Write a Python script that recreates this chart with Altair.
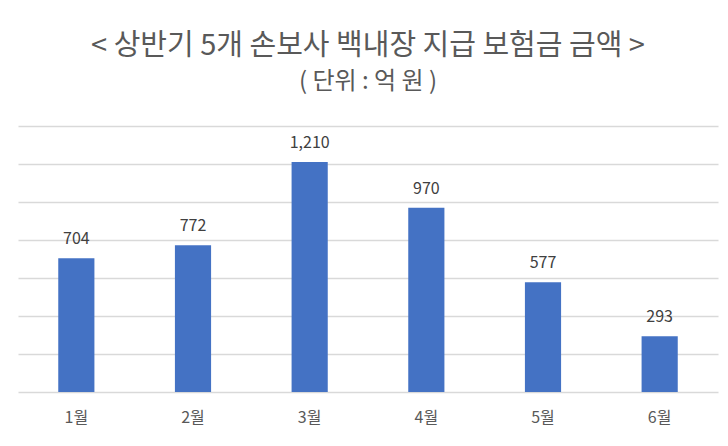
import altair as alt
import pandas as pd

months = ["1월", "2월", "3월", "4월", "5월", "6월"]
values = [704, 772, 1210, 970, 577, 293]
labels = ["704", "772", "1,210", "970", "577", "293"]

df = pd.DataFrame({"month": months, "value": values, "label": labels})

FONT = "Noto Sans CJK KR"

base = alt.Chart(df).encode(
    x=alt.X("month:N", sort=months, title=None,
            scale=alt.Scale(paddingInner=0.69, paddingOuter=0.345),
            axis=alt.Axis(labelAngle=0, ticks=False, domain=False,
                          labelFont=FONT, labelFontSize=16, labelColor="#595959",
                          labelPadding=17, grid=False)),
    y=alt.Y("value:Q", title=None,
            scale=alt.Scale(domain=[0, 1400]),
            axis=alt.Axis(values=list(range(0, 1401, 200)), labels=False,
                          ticks=False, domain=False, grid=True,
                          gridColor="#d9d9d9", gridWidth=1.5)),
)

bars = base.mark_bar(color="#4472C4")
text = base.mark_text(dy=-19, font=FONT, fontSize=16, color="#404040").encode(
    text="label:N")

chart = (bars + text).properties(
    width=700, height=266,
    autosize=alt.AutoSizeParams(type="none"),
    padding={"left": 10, "top": 118, "right": 2, "bottom": 40},
    title=alt.Title(
        "< 상반기 5개 손보사 백내장 지급 보험금 금액 >",
        subtitle="( 단위 : 억 원 )",
        font=FONT, fontSize=29, fontWeight="normal", color="#595959",
        subtitleFont=FONT, subtitleFontSize=24, subtitleColor="#595959",
        subtitlePadding=9, offset=32, anchor="middle",
    ),
).configure_view(stroke=None)

chart.save("out.html", embed_options={"renderer": "svg", "actions": False})
